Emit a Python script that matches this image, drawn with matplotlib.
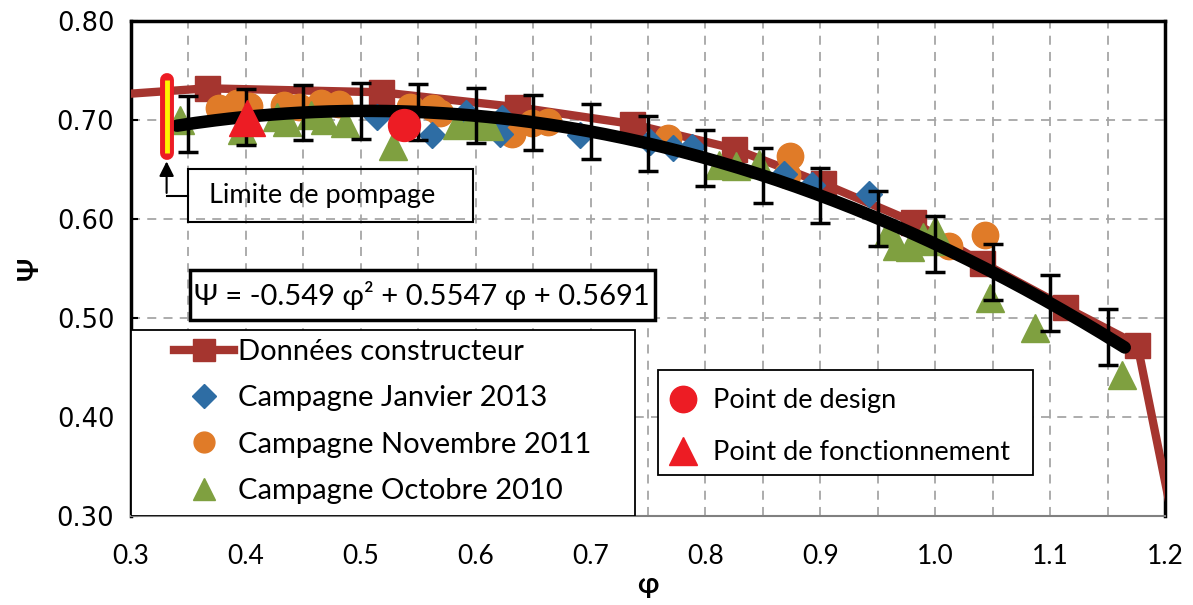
import numpy as np
import matplotlib
matplotlib.use('Agg')
import matplotlib.pyplot as plt
from matplotlib.lines import Line2D
from matplotlib.patches import Rectangle

plt.rcParams['font.family'] = ['Lato', 'DejaVu Sans']

# Données constructeur (points hors cadre aux deux bouts, coupés par l'axe)
phi_constr = [0.28, 0.366, 0.518, 0.636, 0.736, 0.825, 0.902, 0.981, 1.041, 1.113, 1.176, 1.21]
psi_constr = [0.725, 0.732, 0.728, 0.713, 0.696, 0.671, 0.636, 0.597, 0.556, 0.511, 0.473, 0.278]

# Campagne Janvier 2013
phi_jan13 = [0.514, 0.562, 0.592, 0.621, 0.623, 0.691, 0.752, 0.772, 0.788, 0.868, 0.893, 0.942]
psi_jan13 = [0.703, 0.685, 0.707, 0.686, 0.702, 0.685, 0.678, 0.672, 0.673, 0.645, 0.634, 0.625]

# Campagne Novembre 2011
phi_nov11 = [0.377, 0.392, 0.403, 0.433, 0.446, 0.465, 0.481, 0.543, 0.563, 0.569,
             0.632, 0.649, 0.663, 0.767, 0.871, 0.874, 1.012, 1.043]
psi_nov11 = [0.712, 0.717, 0.714, 0.715, 0.713, 0.717, 0.716, 0.713, 0.712, 0.707,
             0.686, 0.697, 0.698, 0.682, 0.644, 0.664, 0.573, 0.584]

# Campagne Octobre 2010
phi_oct10 = [0.343, 0.397, 0.427, 0.436, 0.457, 0.469, 0.486, 0.528, 0.584, 0.595, 0.606, 0.612,
             0.812, 0.827, 0.847, 0.959, 0.967, 0.978, 0.989, 0.998, 1.000, 1.048, 1.087, 1.163]
psi_oct10 = [0.700, 0.690, 0.703, 0.698, 0.705, 0.700, 0.697, 0.674, 0.695, 0.696, 0.695, 0.694,
             0.655, 0.654, 0.656, 0.586, 0.573, 0.572, 0.582, 0.578, 0.589, 0.520, 0.490, 0.442]

# points particuliers
phi_design, psi_design = [0.538], [0.695]
phi_fonct, psi_fonct = [0.401], [0.702]
phi_pompage = 0.331
psi_pompage = [0.667, 0.740]

# courbe de tendance Psi = a phi^2 + b phi + c
coef = [-0.549, 0.5547, 0.5691]
phi_fit_range = [0.34, 1.165]
phi_err = [0.35, 0.40, 0.45, 0.50, 0.55, 0.60, 0.65, 0.70, 0.75, 0.80,
           0.85, 0.90, 0.95, 1.00, 1.05, 1.10, 1.15]
err = 0.028

fig = plt.figure(figsize=(11.93, 6.05), dpi=100)
ax = fig.add_axes([0.1098, 0.1471, 0.8667, 0.8182])

red = '#A5352F'
blue = '#2E6DA4'
orange = '#E07B28'
green = '#7FA040'
bright = '#ED1C24'

ax.plot(phi_constr, psi_constr, color=red, lw=6, marker='s', ms=18, zorder=3)
ax.plot(phi_nov11, psi_nov11, ls='none', marker='o', ms=19, color=orange, zorder=4)
ax.plot(phi_jan13, psi_jan13, ls='none', marker='D', ms=13.5, color=blue, zorder=4)
ax.plot(phi_oct10, psi_oct10, ls='none', marker='^', ms=20, color=green, zorder=4)

xf = np.linspace(phi_fit_range[0], phi_fit_range[1], 200)
ax.plot(xf, np.polyval(coef, xf), color='black', lw=9, solid_capstyle='round', zorder=5)
ax.errorbar(phi_err, np.polyval(coef, phi_err), yerr=err, fmt='none', ecolor='black',
            elinewidth=2.5, capsize=7, capthick=2.5, zorder=6)

ax.plot(phi_design, psi_design, ls='none', marker='o', ms=23, color=bright, zorder=7)
ax.plot(phi_fonct, psi_fonct, ls='none', marker='^', ms=26, color=bright, zorder=7)

# limite de pompage
ax.plot([phi_pompage] * 2, psi_pompage, color=bright, lw=10, solid_capstyle='round', zorder=7)
ax.plot([phi_pompage] * 2, psi_pompage, color='#FFF200', lw=3.5, solid_capstyle='butt', zorder=8)
ax.add_patch(Rectangle((0.35, 0.597), 0.248, 0.053, fill=False, lw=1.5, ec='black', zorder=8))
ax.text(0.3676, 0.6235, 'Limite de pompage', fontsize=19.5, va='center', zorder=9)
ax.plot([0.35, phi_pompage], [0.6235, 0.6235], color='black', lw=1.5, zorder=8)
ax.annotate('', xy=(phi_pompage, 0.661), xytext=(phi_pompage, 0.6235),
            arrowprops=dict(arrowstyle='-|>', color='black', lw=1.5, mutation_scale=22), zorder=8)

# équation
ax.add_patch(Rectangle((0.351, 0.498), 0.405, 0.0505, fc='white', lw=2.5, ec='black', zorder=8))
ax.text(0.5535, 0.523, 'Ψ = -0.549 φ² + 0.5547 φ + 0.5691', fontsize=21,
        ha='center', va='center', zorder=9)

ax.set_xlim(0.3, 1.2)
ax.set_ylim(0.30, 0.80)
ax.set_xticks([0.3, 0.4, 0.5, 0.6, 0.7, 0.8, 0.9, 1.0, 1.1, 1.2])
ax.set_xticks([0.35, 0.45, 0.55, 0.65, 0.75, 0.85, 0.95, 1.05, 1.15], minor=True)
ax.set_yticks([0.30, 0.40, 0.50, 0.60, 0.70, 0.80])
ax.set_xticklabels(['0.3', '0.4', '0.5', '0.6', '0.7', '0.8', '0.9', '1.0', '1.1', '1.2'])
ax.set_yticklabels(['0.30', '0.40', '0.50', '0.60', '0.70', '0.80'], family='DejaVu Sans')
ax.tick_params(axis='x', which='both', length=0, labelsize=19, pad=20)
ax.tick_params(axis='y', length=5, width=1.5, direction='in', labelsize=18.5, pad=12)
ax.grid(True, which='both', axis='x', color='#A6A6A6', ls=(0, (5, 4)), lw=1.3)
ax.grid(True, which='major', axis='y', color='#A6A6A6', ls=(0, (5, 4)), lw=1.3)
ax.set_axisbelow(True)
for s in ['left', 'top', 'right']:
    ax.spines[s].set_linewidth(2.5)
    ax.spines[s].set_color('black')
ax.spines['bottom'].set_color('#808080')
ax.spines['bottom'].set_linewidth(1.5)

ax.set_xlabel('φ', fontsize=20, fontweight='bold', labelpad=2)
ax.set_ylabel('Ψ', fontsize=20, fontweight='bold', labelpad=10)

# légende séries : cadre blanc puis entrées
ax.add_patch(Rectangle((0, 0), 0.487, 0.376, transform=ax.transAxes, fc='white',
                       ec='black', lw=1.3, zorder=9))
h1 = [Line2D([], [], color=red, lw=6, marker='s', ms=16),
      Line2D([], [], ls='none', marker='D', ms=12, color=blue),
      Line2D([], [], ls='none', marker='o', ms=15, color=orange),
      Line2D([], [], ls='none', marker='^', ms=16, color=green)]
l1 = ['Données constructeur', 'Campagne Janvier 2013', 'Campagne Novembre 2011', 'Campagne Octobre 2010']
leg1 = ax.legend(h1, l1, loc='upper left', bbox_to_anchor=(0.0416, 0.358), fontsize=21,
                 frameon=False, borderaxespad=0, borderpad=0, handlelength=2.05,
                 handletextpad=0.15, labelspacing=0.7)
leg1.set_zorder(10)
ax.add_artist(leg1)

# légende points particuliers
ax.add_patch(Rectangle((0.5097, 0.0828), 0.3627, 0.212, transform=ax.transAxes, fc='white',
                       ec='black', lw=1.3, zorder=9))
h2 = [Line2D([], [], ls='none', marker='o', ms=19, color=bright),
      Line2D([], [], ls='none', marker='^', ms=20, color=bright)]
l2 = ['Point de design', 'Point de fonctionnement']
leg2 = ax.legend(h2, l2, loc='upper left', bbox_to_anchor=(0.521, 0.258), fontsize=19.5,
                 frameon=False, borderaxespad=0, borderpad=0, handlelength=1.0,
                 handletextpad=0.6, labelspacing=1.0)
leg2.set_zorder(10)

fig.savefig('out.png', dpi=100)
